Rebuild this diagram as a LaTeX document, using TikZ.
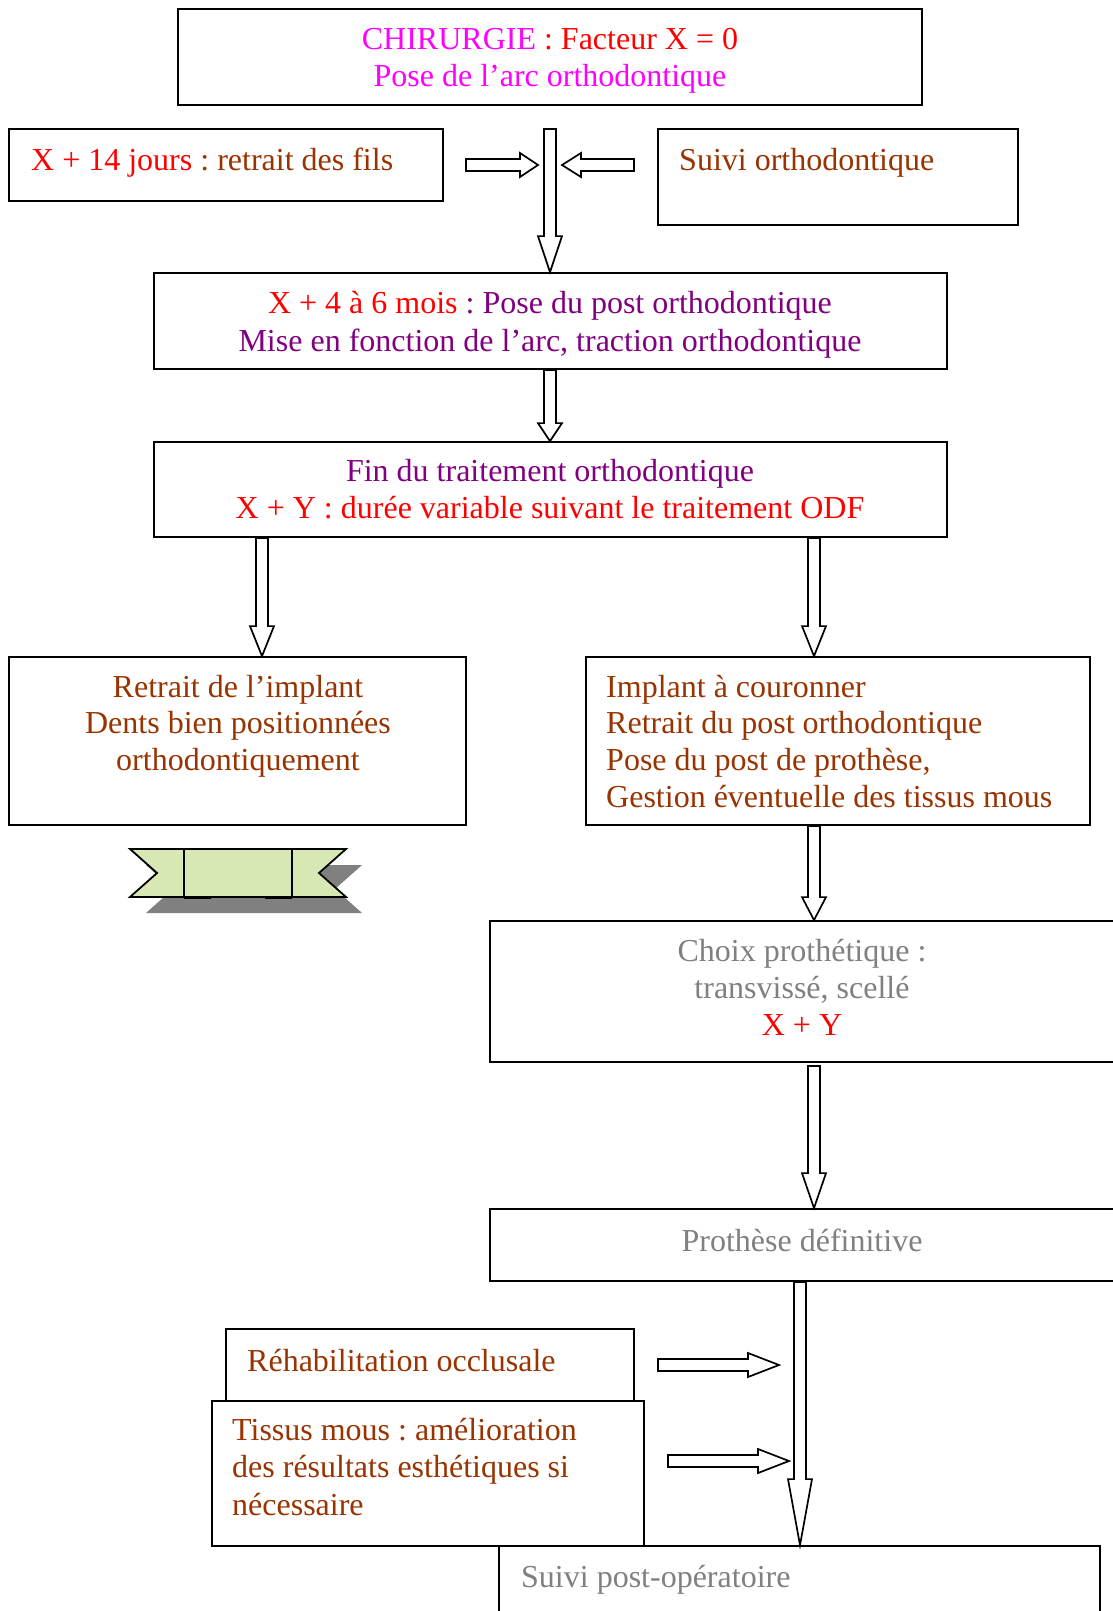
\documentclass[tikz,border=0pt]{standalone}
\usepackage{fontspec}
\setmainfont{Liberation Serif}
\usetikzlibrary{calc}
\frenchspacing

\definecolor{rose}{HTML}{FF00FF}
\definecolor{rouge}{HTML}{FF0000}
\definecolor{brun}{HTML}{993300}
\definecolor{prune}{HTML}{800080}
\definecolor{gris}{HTML}{808080}
\definecolor{ruban}{HTML}{D7E8B5}
\definecolor{ombre}{HTML}{808080}

\tikzset{
  box/.style 2 args={draw, line width=1.8pt, inner sep=0pt,
    minimum width=#1pt, minimum height=#2pt},
  txt/.style={inner sep=0pt, font=\fontsize{32}{37}\selectfont\frenchspacing},
  arrowline/.style={draw, fill=white, line width=1.7pt, line join=miter}
}

% hollow block arrow: #1 start, #2 tip, #3 head length
\newcommand\blockarrow[3]{%
  \coordinate (ah) at ($(#2)!#3!(#1)$);
  \draw[arrowline] ($(#1)!6pt!90:(#2)$) -- ($(ah)!6pt!90:(#2)$)
    -- ($(ah)!12pt!90:(#2)$) -- (#2) -- ($(ah)!12pt!-90:(#2)$)
    -- ($(ah)!6pt!-90:(#2)$) -- ($(#1)!6pt!-90:(#2)$) -- cycle;}

\begin{document}
\begin{tikzpicture}[x=1pt, y=-1pt]
\fill[white] (0,0) rectangle (1113,1611);
\useasboundingbox (0,0) rectangle (1113,1611);

% boxes
\node[box={744}{96}]  (b1)  at (550,57) {};
\node[box={434}{72}]  (b2)  at (226,165) {};
\node[box={360}{96}]  (b3)  at (838,177) {};
\node[box={793}{96}]  (b4)  at (550.5,321) {};
\node[box={793}{95}]  (b5)  at (550.5,489.5) {};
\node[box={457}{168}] (b6)  at (237.5,741) {};
\node[box={504}{168}] (b7)  at (838,741) {};
\node[box={626}{141}] (b8)  at (803,991.5) {};
\node[box={626}{72}]  (b9)  at (803,1245) {};
\node[box={408}{72}]  (b10) at (430,1365) {};
\node[box={432}{145}] (b11) at (428,1473.5) {};
\node[box={601}{84}]  (b12) at (799.5,1588) {};

% texts
\node[txt, anchor=base] (t1a) at (550,49)
  {{\color{rose}CHIRURGIE} {\color{rouge}: Facteur X = 0}};
\node[txt, anchor=base, text=rose] (t1b) at (550,86) {Pose de l’arc orthodontique};

\node[txt, anchor=base west] (t2) at (31,170)
  {{\color{rouge}X + 14 jours} {\color{brun}: retrait des fils}};
\node[txt, anchor=base west, text=brun] (t3) at (679,170) {Suivi orthodontique};

\node[txt, anchor=base] (t4a) at (550,313)
  {{\color{rouge}X + 4 à 6 mois} {\color{prune}: Pose du post orthodontique}};
\node[txt, anchor=base, text=prune] (t4b) at (550,351)
  {Mise en fonction de l’arc, traction orthodontique};

\node[txt, anchor=base, text=prune] (t5a) at (550,481) {Fin du traitement orthodontique};
\node[txt, anchor=base, text=rouge] (t5b) at (550,518)
  {X + Y : durée variable suivant le traitement ODF};

\node[txt, anchor=base, text=brun] (t6a) at (238,697) {Retrait de l’implant};
\node[txt, anchor=base, text=brun] (t6b) at (238,733) {Dents bien positionnées};
\node[txt, anchor=base, text=brun] (t6c) at (238,770) {orthodontiquement};

\node[txt, anchor=base west, text=brun] (t7a) at (606,697) {Implant à couronner};
\node[txt, anchor=base west, text=brun] (t7b) at (606,733) {Retrait du post orthodontique};
\node[txt, anchor=base west, text=brun] (t7c) at (606,770) {Pose du post de prothèse,};
\node[txt, anchor=base west, text=brun] (t7d) at (606,807) {Gestion éventuelle des tissus mous};

\node[txt, anchor=base, text=gris] (t8a) at (802,961) {Choix prothétique :};
\node[txt, anchor=base, text=gris] (t8b) at (802,998) {transvissé, scellé};
\node[txt, anchor=base, text=rouge] (t8c) at (802,1035) {X + Y};

\node[txt, anchor=base, text=gris] (t9) at (802,1251) {Prothèse définitive};

\node[txt, anchor=base west, text=brun] (t10) at (247,1371) {Réhabilitation occlusale};

\node[txt, anchor=base west, text=brun] (t11a) at (232,1440) {Tissus mous : amélioration};
\node[txt, anchor=base west, text=brun] (t11b) at (232,1477) {des résultats esthétiques si};
\node[txt, anchor=base west, text=brun] (t11c) at (232,1515) {nécessaire};

\node[txt, anchor=base west, text=gris] (t12) at (521,1587) {Suivi post-opératoire};

% arrow columns and free arrow ends
\coordinate (colA) at (550,0);
\coordinate (colL) at (262,0);
\coordinate (colR) at (814,0);
\coordinate (colP) at (800,0);
\coordinate (a1s) at (550,129);
\coordinate (a2s) at (466,165);
\coordinate (a2t) at (538,165);
\coordinate (a3s) at (634,165);
\coordinate (a3t) at (562,165);
\coordinate (a8s) at (814,1066);
\coordinate (a10s) at (658,1365);
\coordinate (a10t) at (779,1365);
\coordinate (a11s) at (668,1461);
\coordinate (a11t) at (789,1461);

% block arrows
\blockarrow{a1s}{colA |- b4.north}{36pt}
\blockarrow{a2s}{a2t}{18pt}
\blockarrow{a3s}{a3t}{19pt}
\blockarrow{colA |- b4.south}{colA |- b5.north}{18pt}
\blockarrow{colL |- b5.south}{colL |- b6.north}{30pt}
\blockarrow{colR |- b5.south}{colR |- b7.north}{30pt}
\blockarrow{colR |- b7.south}{colR |- b8.north}{23pt}
\blockarrow{a8s}{colR |- b9.north}{35pt}
\blockarrow{colP |- b9.south}{colP |- b12.north}{66pt}
\blockarrow{a10s}{a10t}{31pt}
\blockarrow{a11s}{a11t}{31pt}

% ribbon with its shadow
\fill[ombre] (146,865) -- (362,865) -- (335,889) -- (362,913)
  -- (146,913) -- (173,889) -- cycle;
\filldraw[fill=ruban, line width=1.8pt, line join=miter]
  (130,849) -- (346,849) -- (319,873) -- (346,897)
  -- (130,897) -- (157,873) -- cycle;
\draw[line width=1.8pt] (184,849) -- (184,897);
\draw[line width=1.8pt] (292,849) -- (292,897);
\draw[line width=3pt] (184,897) -- (211,897);
\draw[line width=3pt] (265,897) -- (292,897);
\end{tikzpicture}
\end{document}
